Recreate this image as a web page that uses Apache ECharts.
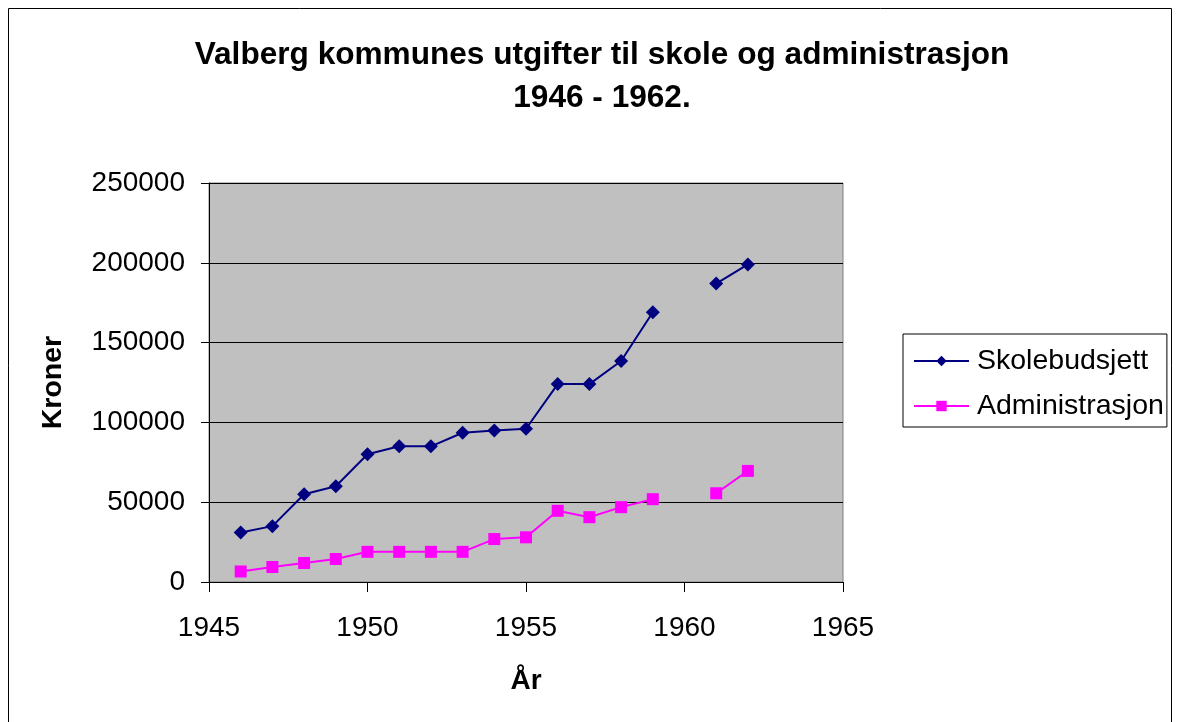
<!DOCTYPE html>
<html>
<head>
<meta charset="utf-8">
<script src="https://cdn.jsdelivr.net/npm/echarts@6/dist/echarts.min.js"></script>
<style>
html,body{margin:0;padding:0;background:#fff;}
#c{width:1177px;height:722px;}
</style>
</head>
<body>
<div id="c"></div>
<script>
const years = [1946,1947,1948,1949,1950,1951,1952,1953,1954,1955,1956,1957,1958,1959,1960,1961,1962];
const skolebudsjett = [31000,35000,55000,60000,80000,85000,85000,93500,95000,96000,124000,124000,138500,169000,null,187000,199000];
const administrasjon = [6600,9400,11900,14400,18900,18900,18900,18900,26900,28000,44600,40600,46900,51900,null,55600,69600];
const seriesNames = ['Skolebudsjett','Administrasjon'];
const titleLines = ['Valberg kommunes utgifter til skole og administrasjon','1946 - 1962.'];
const xTitle = 'År';
const yTitle = 'Kroner';

function pairs(vals){ return years.map((y,i)=>[y, vals[i]===null ? '-' : vals[i]]); }

const chart = echarts.init(document.getElementById('c'));
const F = 'Liberation Sans, Arial, sans-serif';
chart.setOption({
  backgroundColor:'#fff',
  animation:false,
  graphic:[{type:'rect',shape:{x:8.5,y:8.5,width:1163,height:730},style:{fill:'none',stroke:'#000',lineWidth:1},silent:true}],
  title:{text:titleLines.join('\n'),left:597,top:29,textAlign:'center',
    textStyle:{fontFamily:F,fontWeight:'bold',fontSize:31.6,lineHeight:43,color:'#000'}},
  legend:{orient:'vertical',left:903,top:334,itemWidth:55,itemHeight:13,itemGap:15,
    padding:[12,3,6,10],borderColor:'#000',borderWidth:1,backgroundColor:'#fff',
    textStyle:{fontFamily:F,fontSize:28.5,lineHeight:30,color:'#000',padding:[0,0,0,3]},
    data:seriesNames},
  grid:{left:209,right:1177-843,top:183,bottom:722-582,containLabel:false,
    show:true,backgroundColor:'#C0C0C0',borderColor:'#808080',borderWidth:1},
  xAxis:{type:'value',min:1945,max:1965,interval:5,name:xTitle,nameLocation:'middle',nameGap:85,
    nameTextStyle:{fontFamily:F,fontWeight:'bold',fontSize:28,color:'#000'},
    axisLine:{show:true,lineStyle:{color:'#000',width:1}},
    axisTick:{show:true,length:10,inside:false,lineStyle:{color:'#000'}},
    axisLabel:{fontFamily:F,fontSize:28,color:'#000',margin:32,formatter:v=>String(v)},
    splitLine:{show:false}},
  yAxis:{type:'value',min:0,max:250000,interval:50000,name:yTitle,nameLocation:'middle',nameGap:141,
    nameTextStyle:{fontFamily:F,fontWeight:'bold',fontSize:28.5,color:'#000'},
    axisLine:{show:true,lineStyle:{color:'#000',width:1}},
    axisTick:{show:true,length:8,lineStyle:{color:'#000'}},
    axisLabel:{fontFamily:F,fontSize:28,color:'#000',margin:24,formatter:v=>String(v)},
    splitLine:{show:true,lineStyle:{color:'#000',width:1}}},
  series:[
    {name:seriesNames[0],type:'line',data:pairs(skolebudsjett),connectNulls:false,
      symbol:'diamond',symbolSize:14,
      lineStyle:{color:'#000080',width:2},itemStyle:{color:'#000080'}},
    {name:seriesNames[1],type:'line',data:pairs(administrasjon),connectNulls:false,
      symbol:'rect',symbolSize:12,
      lineStyle:{color:'#FF00FF',width:2},itemStyle:{color:'#FF00FF'}}
  ]
});
</script>
</body>
</html>
